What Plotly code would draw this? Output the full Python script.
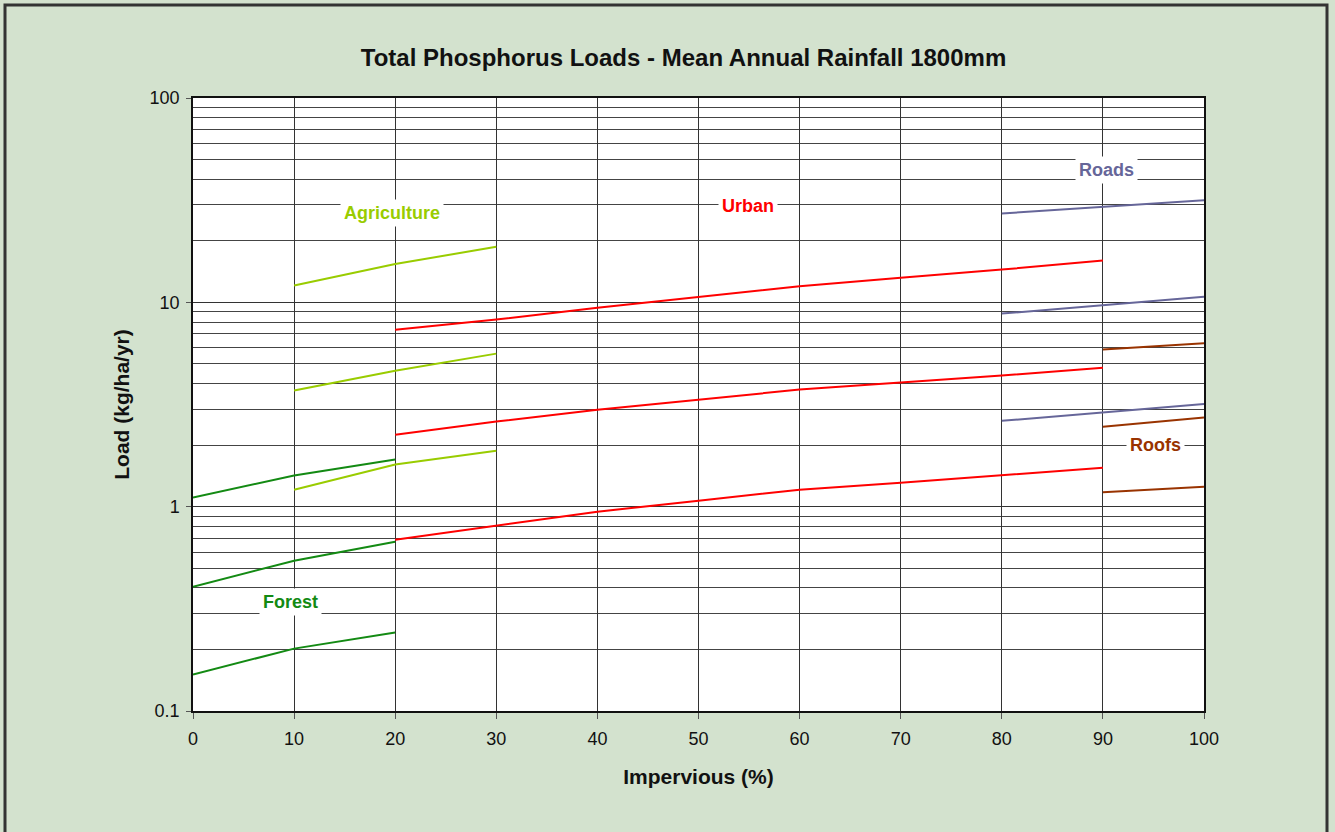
import numpy as np
import plotly.graph_objects as go

# ---- data ----
forest_x = [0, 10, 20]
forest_upper = [1.11, 1.42, 1.70]
forest_mid = [0.406, 0.544, 0.674]
forest_low = [0.151, 0.202, 0.242]

agri_x = [10, 20, 30]
agri_upper = [12.1, 15.4, 18.7]
agri_mid = [3.70, 4.63, 5.61]
agri_low = [1.21, 1.61, 1.88]

urban_x = [20, 30, 40, 50, 60, 70, 80, 90]
urban_upper = [7.35, 8.23, 9.42, 10.66, 12.0, 13.2, 14.46, 16.0]
urban_mid = [2.25, 2.61, 2.98, 3.34, 3.74, 4.05, 4.38, 4.79]
urban_low = [0.689, 0.807, 0.945, 1.07, 1.21, 1.31, 1.42, 1.55]

roads_x = [80, 90, 100]
roads_upper = [27.2, 29.2, 31.6]
roads_mid = [8.81, 9.71, 10.66]
roads_low = [2.63, 2.89, 3.18]

roofs_x = [90, 100]
roofs_upper = [5.87, 6.30]
roofs_mid = [2.46, 2.73]
roofs_low = [1.175, 1.253]

labels = ["Agriculture", "Urban", "Roads", "Roofs", "Forest"]
label_x = [19.7, 54.9, 90.4, 95.2, 9.6]
label_y = [27.5, 29.7, 44.6, 2.01, 0.343]

y_major = [0.1, 1, 10, 100]
y_major_text = ["0.1", "1", "10", "100"]
x_ticks = list(range(0, 101, 10))

COL = {"Forest": "#138A13", "Agriculture": "#99CC00", "Urban": "#FF0000",
       "Roads": "#666699", "Roofs": "#993300"}

FONT = "Liberation Sans, Arial, sans-serif"

fig = go.Figure()

def add(xs, ys, name):
    fig.add_trace(go.Scatter(x=xs, y=ys, mode="lines",
                             line=dict(color=COL[name], width=2),
                             showlegend=False, hoverinfo="skip"))

for ys in (forest_upper, forest_mid, forest_low):
    add(forest_x, ys, "Forest")
for ys in (agri_upper, agri_mid, agri_low):
    add(agri_x, ys, "Agriculture")
for ys in (urban_upper, urban_mid, urban_low):
    add(urban_x, ys, "Urban")
for ys in (roads_upper, roads_mid, roads_low):
    add(roads_x, ys, "Roads")
for ys in (roofs_upper, roofs_mid, roofs_low):
    add(roofs_x, ys, "Roofs")

for t, lx, ly in zip(labels, label_x, label_y):
    fig.add_annotation(x=lx, y=np.log10(ly), text="<b>%s</b>" % t, showarrow=False,
                       font=dict(family=FONT, size=18, color=COL[t]),
                       bgcolor="white", borderpad=3)

minor_vals = []
for d in [0.1, 1, 10]:
    minor_vals += [d * k for k in range(2, 10)]

fig.update_layout(
    width=1335, height=832,
    margin=dict(l=193, r=131, t=98, b=121),
    paper_bgcolor="#D3E2CE",
    plot_bgcolor="white",
    font=dict(family=FONT, size=18, color="#111"),
    title=dict(text="<b>Total Phosphorus Loads - Mean Annual Rainfall 1800mm</b>",
               x=0.512, xanchor="center", y=0.931, yanchor="middle",
               font=dict(size=24, color="#111")),
    xaxis=dict(range=[0, 100], tickvals=x_ticks, showgrid=True, gridcolor="#333",
               gridwidth=1, showline=True, linecolor="#111", linewidth=1.5, mirror=True,
               ticks="outside", ticklen=6, tickcolor="#555", zeroline=False,
               ticklabelstandoff=5,
               tickfont=dict(size=18, color="#111"),
               title=dict(text="<b>Impervious (%)</b>", font=dict(size=21), standoff=21)),
    yaxis=dict(type="log", range=[-1, 2], tickvals=y_major, ticktext=y_major_text,
               showgrid=True, gridcolor="#333", gridwidth=1,
               showline=True, linecolor="#111", linewidth=1.5, mirror=True,
               ticks="outside", ticklen=5, tickcolor="#555",
               tickfont=dict(size=18, color="#111"), ticklabelstandoff=3,
               minor=dict(tickvals=minor_vals, showgrid=True, gridcolor="#444",
                          gridwidth=1, ticks=""),
               title=dict(text="<b>Load (kg/ha/yr)</b>", font=dict(size=21), standoff=14)),
)

# outer frame
fig.add_shape(type="rect", xref="paper", yref="paper",
              x0=(5 - 193) / 1011, x1=(1327 - 193) / 1011,
              y0=(711 - 845) / 613, y1=(711 - 5) / 613,
              line=dict(color="#333", width=3), layer="below")

fig.write_html("out.html")
